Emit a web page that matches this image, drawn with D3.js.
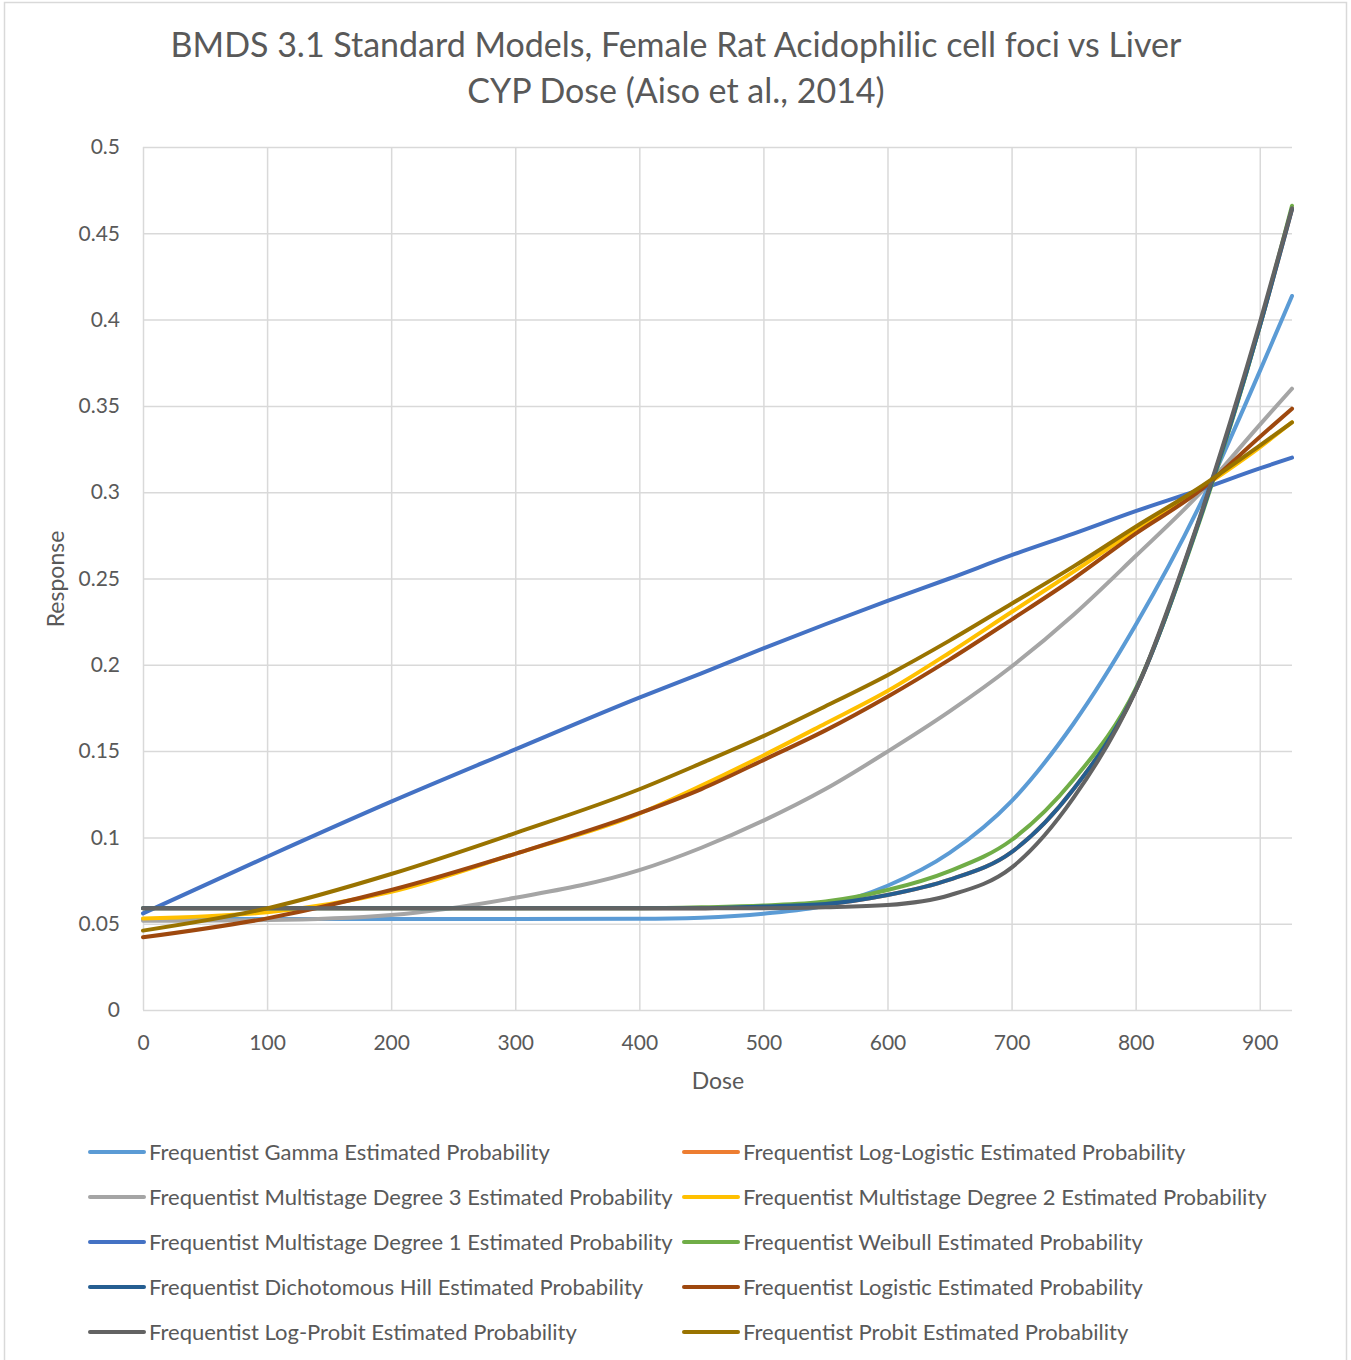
<!DOCTYPE html>
<html>
<head>
<meta charset="utf-8">
<script src="https://cdn.jsdelivr.net/npm/d3@7"></script>
<style>
body { margin: 0; background: #fff; }
text { font-family: Lato, "Open Sans", sans-serif; fill: #595959; }
</style>
</head>
<body>
<svg id="chart"></svg>
<script>
// Dose grid that every model curve was read at
const doses = [0, 100, 200, 300, 400, 450, 500, 550, 600, 650, 700, 750, 800, 850, 900, 926];

// Estimated probabilities
const gamma = [0.0527, 0.0527, 0.0527, 0.0527, 0.0528, 0.0535, 0.0558, 0.0605, 0.072, 0.091, 0.121, 0.166, 0.223, 0.290, 0.370, 0.4137];
const logLogistic = [0.059, 0.059, 0.059, 0.059, 0.059, 0.059, 0.060, 0.0614, 0.0666, 0.0755, 0.0915, 0.128, 0.185, 0.281, 0.396, 0.464];
const multistage3 = [0.0517, 0.0521, 0.055, 0.065, 0.081, 0.094, 0.1097, 0.128, 0.1497, 0.173, 0.199, 0.229, 0.263, 0.298, 0.339, 0.360];
const multistage2 = [0.053, 0.0566, 0.0685, 0.0905, 0.1138, 0.13, 0.1475, 0.166, 0.1848, 0.207, 0.2306, 0.254, 0.278, 0.301, 0.326, 0.3405];
const multistage1 = [0.056, 0.0888, 0.1207, 0.151, 0.181, 0.195, 0.2095, 0.2235, 0.2371, 0.250, 0.2635, 0.276, 0.289, 0.301, 0.3138, 0.320];
const weibull = [0.059, 0.059, 0.059, 0.059, 0.059, 0.0595, 0.0605, 0.0628, 0.0695, 0.0805, 0.0985, 0.1335, 0.186, 0.280, 0.396, 0.466];
const dichotomousHill = [0.059, 0.059, 0.059, 0.059, 0.059, 0.059, 0.060, 0.0614, 0.0666, 0.0755, 0.0915, 0.128, 0.185, 0.281, 0.396, 0.464];
const logistic = [0.0421, 0.0531, 0.0695, 0.0905, 0.114, 0.128, 0.1448, 0.162, 0.1815, 0.203, 0.2262, 0.25, 0.276, 0.300, 0.332, 0.3484];
const logProbit = [0.059, 0.059, 0.059, 0.059, 0.059, 0.059, 0.059, 0.0595, 0.0608, 0.0665, 0.0825, 0.123, 0.185, 0.282, 0.398, 0.4645];
const probit = [0.046, 0.0589, 0.0788, 0.1025, 0.1279, 0.143, 0.1587, 0.176, 0.194, 0.214, 0.2354, 0.257, 0.280, 0.302, 0.327, 0.3405];

const seriesNames = [
    "Frequentist Gamma Estimated Probability",
    "Frequentist Log-Logistic Estimated Probability",
    "Frequentist Multistage Degree 3 Estimated Probability",
    "Frequentist Multistage Degree 2 Estimated Probability",
    "Frequentist Multistage Degree 1 Estimated Probability",
    "Frequentist Weibull Estimated Probability",
    "Frequentist Dichotomous Hill Estimated Probability",
    "Frequentist Logistic Estimated Probability",
    "Frequentist Log-Probit Estimated Probability",
    "Frequentist Probit Estimated Probability"
];
const seriesValues = [gamma, logLogistic, multistage3, multistage2, multistage1, weibull, dichotomousHill, logistic, logProbit, probit];
const seriesColors = ["#5B9BD5", "#ED7D31", "#A5A5A5", "#FFC000", "#4472C4", "#70AD47", "#255E91", "#9E480E", "#636363", "#997300"];

const xTicks = [0, 100, 200, 300, 400, 500, 600, 700, 800, 900];
const yTicks = [0, 0.05, 0.1, 0.15, 0.2, 0.25, 0.3, 0.35, 0.4, 0.45, 0.5];
const titleLines = ["BMDS 3.1 Standard Models, Female Rat Acidophilic cell foci vs Liver", "CYP Dose (Aiso et al., 2014)"];

const width = 1351;
const height = 1360;
const svg = d3.select("#chart").attr("width", width).attr("height", height);

// chart frame
svg.append("rect")
    .attr("x", 4.5).attr("y", 2.5)
    .attr("width", 1342).attr("height", 1400)
    .attr("fill", "#fff").attr("stroke", "#D9D9D9").attr("stroke-width", 1.5);

const plotLeft = 143, plotRight = 1292, plotTop = 147, plotBottom = 1010;

const xScale = d3.scaleLinear().domain([0, 926]).range([plotLeft, plotRight]);
const yScale = d3.scaleLinear().domain([0, 0.5]).range([plotBottom, plotTop]);

// title
svg.append("text")
    .attr("x", 676).attr("y", 57)
    .attr("text-anchor", "middle")
    .style("font-size", "34px")
    .selectAll("tspan")
    .data(titleLines)
    .enter()
    .append("tspan")
    .attr("x", 676)
    .attr("dy", (d, i) => i === 0 ? 0 : 46)
    .text((d) => d);

// gridlines + tick labels
const yAxis = svg.append("g")
    .attr("transform", `translate(${plotLeft},0)`)
    .call(d3.axisLeft(yScale)
        .tickValues(yTicks)
        .tickSize(-(plotRight - plotLeft))
        .tickPadding(23)
        .tickFormat((d) => d === 0 ? "0" : String(+d.toFixed(2))));

const xAxis = svg.append("g")
    .attr("transform", `translate(0,${plotBottom})`)
    .call(d3.axisBottom(xScale)
        .tickValues(xTicks)
        .tickSize(-(plotBottom - plotTop))
        .tickPadding(25));

[xAxis, yAxis].forEach((g) => {
    g.select(".domain").remove();
    g.selectAll(".tick line").attr("stroke", "#D9D9D9").attr("stroke-width", 1.5);
    g.selectAll(".tick text").style("font-size", "21px").attr("fill", "#595959").style("font-family", "Lato, sans-serif");
});

// axis titles
svg.append("text")
    .attr("x", 718).attr("y", 1089)
    .attr("text-anchor", "middle")
    .style("font-size", "23px")
    .text("Dose");

svg.append("text")
    .attr("transform", "translate(64,579) rotate(-90)")
    .attr("text-anchor", "middle")
    .style("font-size", "23px")
    .text("Response");

// model curves
const line = d3.line()
    .x((d, i) => xScale(doses[i]))
    .y((d) => yScale(d))
    .curve(d3.curveMonotoneX);

svg.append("g")
    .selectAll("path")
    .data(seriesValues)
    .enter()
    .append("path")
    .attr("d", (d) => line(d))
    .attr("fill", "none")
    .attr("stroke", (d, i) => seriesColors[i])
    .attr("stroke-width", 4)
    .attr("stroke-linecap", "round")
    .attr("stroke-linejoin", "round");

// legend, two columns filled row by row
const legend = svg.append("g")
    .selectAll("g")
    .data(seriesNames)
    .enter()
    .append("g")
    .attr("transform", (d, i) => `translate(${i % 2 === 0 ? 90 : 684},${1152 + Math.floor(i / 2) * 45})`);

legend.append("line")
    .attr("x1", 0).attr("x2", 54)
    .attr("stroke", (d, i) => seriesColors[i])
    .attr("stroke-width", 4)
    .attr("stroke-linecap", "round");

legend.append("text")
    .attr("x", 59).attr("y", 8)
    .style("font-size", "22px")
    .text((d) => d);
</script>
</body>
</html>
